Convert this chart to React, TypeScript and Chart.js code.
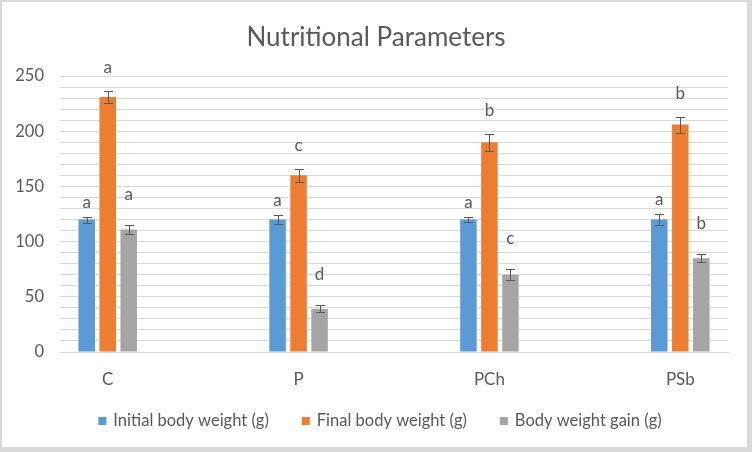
import { useEffect, useRef } from 'react';
import { Chart, registerables } from 'chart.js';

Chart.register(...registerables);

const categories = ['C', 'P', 'PCh', 'PSb'];

const initialWeight = [120, 120, 120, 120];
const initialError = [2.7, 4, 2.5, 5];
const initialLetters = ['a', 'a', 'a', 'a'];

const finalWeight = [231, 160, 190, 206];
const finalError = [5.5, 5.8, 7.5, 7.2];
const finalLetters = ['a', 'c', 'b', 'b'];

const weightGain = [111, 39, 70, 85];
const gainError = [4.2, 3.2, 5, 3.8];
const gainLetters = ['a', 'd', 'c', 'b'];

const seriesLabels = ['Initial body weight (g)', 'Final body weight (g)', 'Body weight gain (g)'];
const seriesColors = ['#5B9BD5', '#ED7D31', '#A5A5A5'];

const yMax = 250;
const yLabelStep = 50;
const yGridStep = 10;

const titleText = 'Nutritional Parameters';

const FONT = 'Lato, "Open Sans", sans-serif';
const TEXT = '#595959';

export default function App() {
  const ref = useRef<HTMLCanvasElement>(null);

  useEffect(() => {
    const canvas = ref.current;
    if (!canvas) return;

    const values = [initialWeight, finalWeight, weightGain];
    const errors = [initialError, finalError, gainError];
    const letters = [initialLetters, finalLetters, gainLetters];
    const letterOffsets = [15, 24, 31];

    const datasets = values.map((vals, d) => ({
      label: seriesLabels[d],
      data: categories.map((_, i) => ({ x: i, y: vals[i] })),
      backgroundColor: seriesColors[d],
      borderWidth: 0,
      categoryPercentage: 0.33,
      barPercentage: 0.786,
    }));

    const decorations = {
      id: 'decorations',
      afterDatasetsDraw(chart: any) {
        const ctx = chart.ctx;
        const yScale = chart.scales.y;
        ctx.save();
        chart.data.datasets.forEach((_: any, d: number) => {
          const meta = chart.getDatasetMeta(d);
          meta.data.forEach((el: any, i: number) => {
            const v = values[d][i];
            const e = errors[d][i];
            const x = Math.round(el.x) + 0.5;
            const top = Math.round(yScale.getPixelForValue(v + e)) + 0.5;
            const bot = Math.round(yScale.getPixelForValue(v - e)) + 0.5;
            ctx.strokeStyle = '#595959';
            ctx.lineWidth = 1;
            ctx.beginPath();
            ctx.moveTo(x, top);
            ctx.lineTo(x, bot);
            ctx.moveTo(x - 4.5, top);
            ctx.lineTo(x + 4.5, top);
            ctx.moveTo(x - 4.5, bot);
            ctx.lineTo(x + 4.5, bot);
            ctx.stroke();

            ctx.fillStyle = TEXT;
            ctx.font = `17px ${FONT}`;
            ctx.textAlign = 'center';
            ctx.textBaseline = 'middle';
            ctx.fillText(letters[d][i], el.x, top - letterOffsets[d]);
          });
        });
        ctx.restore();
      },
      afterDraw(chart: any) {
        const ctx = chart.ctx;
        ctx.save();
        // title
        ctx.fillStyle = TEXT;
        ctx.font = `26px ${FONT}`;
        ctx.textAlign = 'center';
        ctx.textBaseline = 'middle';
        ctx.fillText(titleText, 376, 38);

        // legend
        ctx.font = `16.5px ${FONT}`;
        const box = 8;
        const gapText = 7;
        const gapItem = 33;
        const widths = seriesLabels.map((l) => ctx.measureText(l).width);
        const total = widths.reduce((a, w) => a + box + gapText + w, 0) + gapItem * (seriesLabels.length - 1);
        let x = 380 - total / 2;
        const y = 421;
        ctx.textAlign = 'left';
        seriesLabels.forEach((l, k) => {
          ctx.fillStyle = seriesColors[k];
          ctx.fillRect(x, y - box / 2, box, box);
          ctx.fillStyle = TEXT;
          ctx.fillText(l, x + box + gapText, y);
          x += box + gapText + widths[k] + gapItem;
        });

        // outer border
        ctx.fillStyle = '#d9d9d9';
        ctx.fillRect(0, 0, 752, 2);
        ctx.fillRect(0, 0, 2, 452);
        ctx.fillRect(747, 0, 5, 452);
        ctx.fillRect(0, 447, 752, 5);
        ctx.restore();
      },
    };

    const chart = new Chart(canvas, {
      type: 'bar',
      data: { datasets },
      options: {
        animation: false,
        responsive: false,
        devicePixelRatio: 1,
        layout: { padding: { left: 0, right: 24, top: 76, bottom: 60 } },
        plugins: {
          legend: { display: false },
          title: { display: false },
          tooltip: { enabled: false },
        },
        scales: {
          x: {
            type: 'linear',
            min: -0.25,
            max: 3.25,
            offset: false,
            grid: { display: false, drawTicks: false },
            border: { display: true, color: '#d9d9d9' },
            ticks: {
              autoSkip: false,
              padding: 17,
              color: TEXT,
              font: { size: 17, family: FONT },
              callback: (v: any) => categories[v] ?? '',
            },
            afterBuildTicks: (s: any) => {
              s.ticks = categories.map((_, i) => ({ value: i }));
            },
            afterFit: (s: any) => {
              s.height = 40;
            },
          },
          y: {
            min: 0,
            max: yMax,
            grid: { color: '#d9d9d9', drawTicks: false },
            border: { display: false },
            ticks: {
              stepSize: yGridStep,
              autoSkip: false,
              padding: 16,
              color: TEXT,
              font: { size: 16.5, family: FONT },
              callback: (v: any) => (v % yLabelStep === 0 ? String(v) : ''),
            },
            afterFit: (s: any) => {
              s.width = 60;
            },
          },
        },
      },
      plugins: [decorations],
    });

    return () => chart.destroy();
  }, []);

  return (
    <div style={{ position: 'fixed', left: 0, top: 0, width: 752, height: 452, background: '#fff' }}>
      <canvas ref={ref} width={752} height={452} style={{ display: 'block' }} />
    </div>
  );
}
